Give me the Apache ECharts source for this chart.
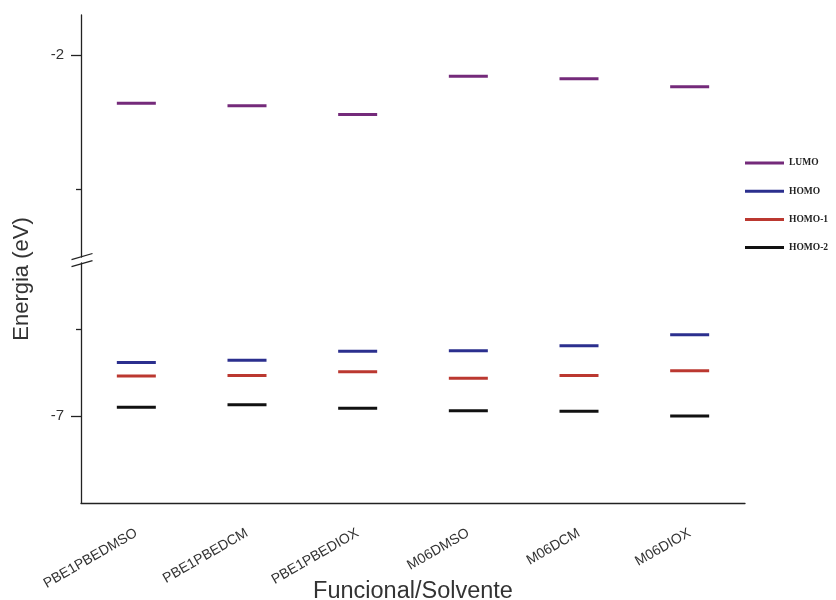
<!DOCTYPE html>
<html>
<head>
<meta charset="utf-8">
<script src="https://cdn.jsdelivr.net/npm/echarts@6/dist/echarts.min.js"></script>
<style>html,body{margin:0;padding:0;background:#fff;}#c{width:836px;height:600px;}</style>
</head>
<body>
<div id="c"></div>
<script>
var categories = ['PBE1PBEDMSO', 'PBE1PBEDCM', 'PBE1PBEDIOX', 'M06DMSO', 'M06DCM', 'M06DIOX'];
var lumo  = [-2.360, -2.378, -2.443, -2.159, -2.177, -2.237];
var homo  = [-6.386, -6.359, -6.255, -6.249, -6.191, -6.065];
var homo1 = [-6.540, -6.533, -6.490, -6.567, -6.533, -6.480];
var homo2 = [-6.900, -6.870, -6.912, -6.939, -6.946, -7.000];
var upperRange = [-3.507, -1.7015];
var lowerRange = [-8, -5.241];
var upperMajor = [-2];
var upperMinor = [-3];
var lowerMajor = [-7];
var lowerMinor = [-6];

function pairs(vals) { return vals.map(function (v, i) { return [categories[i], v]; }); }

var chart = echarts.init(document.getElementById('c'));
var markSize = [39, 3];
var labelFont = 'Liberation Sans, Arial, sans-serif';

function yAx(grid, range, ticks, len, withLine, withLabel) {
  return {
    type: 'value', gridIndex: grid, min: range[0], max: range[1], position: 'left',
    splitLine: { show: false },
    axisLine: { show: withLine, lineStyle: { color: '#222', width: 1.3 } },
    axisTick: { show: true, length: len, customValues: ticks, lineStyle: { color: '#222', width: 1.3 } },
    axisLabel: withLabel ? { show: true, customValues: ticks, margin: 17, fontSize: 15, color: '#333', fontFamily: labelFont } : { show: false }
  };
}

chart.setOption({
  animation: false,
  backgroundColor: '#fff',
  grid: [
    { left: 81, right: 91, top: 15, height: 242, outerBoundsMode: 'none', containLabel: false },
    { left: 81, right: 91, top: 263, height: 240, outerBoundsMode: 'none', containLabel: false }
  ],
  xAxis: [
    { type: 'category', gridIndex: 0, data: categories, show: false },
    {
      type: 'category', gridIndex: 1, data: categories,
      axisLine: { lineStyle: { color: '#222', width: 1.3 } },
      axisTick: { alignWithLabel: true, length: 10, lineStyle: { color: '#222', width: 1.3 } },
      axisLabel: { rotate: 30, margin: 29, fontSize: 14, color: '#333', fontFamily: labelFont, interval: 0 },
      name: 'Funcional/Solvente', nameLocation: 'middle', nameGap: 77, nameMoveOverlap: false,
      nameTextStyle: { fontSize: 23.5, color: '#333', fontFamily: labelFont }
    }
  ],
  yAxis: [
    yAx(0, upperRange, upperMajor, 10, true, true),
    yAx(0, upperRange, upperMinor, 5, false, false),
    yAx(1, lowerRange, lowerMajor, 10, true, true),
    yAx(1, lowerRange, lowerMinor, 5, false, false)
  ],
  legend: {
    orient: 'vertical', left: 740, top: 152, icon: 'rect',
    itemWidth: 39, itemHeight: 3, itemGap: 16.2,
    data: ['LUMO', 'HOMO', 'HOMO-1', 'HOMO-2'],
    textStyle: { fontFamily: 'Liberation Serif, Times New Roman, serif', fontWeight: 'bold', fontSize: 9.5, color: '#222', lineHeight: 12 }
  },
  series: [
    { name: 'LUMO', type: 'scatter', xAxisIndex: 0, yAxisIndex: 0, symbol: 'rect', symbolSize: markSize, itemStyle: { color: '#742a7a', opacity: 1 }, data: pairs(lumo) },
    { name: 'HOMO', type: 'scatter', xAxisIndex: 1, yAxisIndex: 2, symbol: 'rect', symbolSize: markSize, itemStyle: { color: '#2b2f8e', opacity: 1 }, data: pairs(homo) },
    { name: 'HOMO-1', type: 'scatter', xAxisIndex: 1, yAxisIndex: 2, symbol: 'rect', symbolSize: markSize, itemStyle: { color: '#bb3830', opacity: 1 }, data: pairs(homo1) },
    { name: 'HOMO-2', type: 'scatter', xAxisIndex: 1, yAxisIndex: 2, symbol: 'rect', symbolSize: markSize, itemStyle: { color: '#111111', opacity: 1 }, data: pairs(homo2) }
  ],
  graphic: [
    { type: 'line', shape: { x1: 71.5, y1: 259.5, x2: 92.5, y2: 253.5 }, style: { stroke: '#222', lineWidth: 1.3 } },
    { type: 'line', shape: { x1: 71.5, y1: 266.5, x2: 92.5, y2: 260.5 }, style: { stroke: '#222', lineWidth: 1.3 } },
    { type: 'text', x: 22, y: 279, rotation: Math.PI / 2,
      style: { text: 'Energia (eV)', fontSize: 22, fill: '#333', fontFamily: labelFont, align: 'center', verticalAlign: 'middle' } }
  ]
});
</script>
</body>
</html>
